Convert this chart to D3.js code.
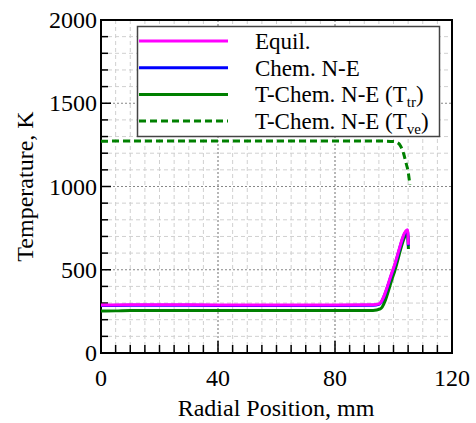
<!DOCTYPE html>
<html><head><meta charset="utf-8">
<script src="https://cdn.jsdelivr.net/npm/d3@7"></script>
<style>body{margin:0;background:#fff}svg{display:block}</style>
</head><body><svg id="c" width="476" height="423"></svg>
<script>
const equilX = [0, 10, 20, 40, 60, 80, 93, 95, 100, 104.8, 105.1];
const equilT = [288, 290, 290, 289, 289, 289, 290, 295, 510, 740, 650];
const chemX  = [0, 10, 20, 40, 60, 80, 93, 95, 100, 104.8, 105.1];
const chemT  = [285, 287, 287, 286, 286, 286, 287, 292, 505, 735, 645];
const trX    = [0, 5, 10, 20, 40, 60, 80, 93, 95.5, 100, 104.8, 105.1];
const trT    = [252, 253, 256, 256, 255, 255, 255, 256, 265, 470, 715, 625];
const veX    = [0, 20, 40, 60, 80, 95, 100, 101.5, 102.5, 103.5, 104.3, 105, 105.6];
const veT    = [1272, 1274, 1274, 1274, 1274, 1273, 1270, 1262, 1240, 1195, 1140, 1090, 1010];
const xTicks = [0, 40, 80, 120];
const yTicks = [0, 500, 1000, 1500, 2000];
const legendLabels = ["Equil.", "Chem. N-E", "T-Chem. N-E (T", "T-Chem. N-E (T"];
const legendSubs = ["", "", "tr", "ve"];

const FONT = '"Liberation Serif"';
const L = 101, R = 452, T = 20, B = 353;
const svg = d3.select("#c");
const x = d3.scaleLinear().domain([0, 120]).range([L, R]);
const y = d3.scaleLinear().domain([0, 2000]).range([B, T]);

// grid
const g = svg.append("g");
d3.range(5, 120, 5).forEach(v => {
  const major = v % 40 === 0;
  g.append("line").attr("x1", x(v)).attr("x2", x(v)).attr("y1", T).attr("y2", B)
    .attr("stroke", major ? "#888" : "#d0d0d0").attr("stroke-width", major ? 1.2 : 1)
    .attr("stroke-dasharray", major ? "2,2" : "4,3");
});
d3.range(100, 2000, 100).forEach(v => {
  const major = v % 500 === 0;
  g.append("line").attr("x1", L).attr("x2", R).attr("y1", y(v)).attr("y2", y(v))
    .attr("stroke", major ? "#888" : "#d0d0d0").attr("stroke-width", major ? 1.2 : 1)
    .attr("stroke-dasharray", major ? "2,2" : "4,3");
});

// ticks
d3.range(0, 121, 5).forEach(v => {
  const major = v % 40 === 0;
  svg.append("line").attr("x1", x(v)).attr("x2", x(v)).attr("y1", B).attr("y2", B - (major ? 12 : 8))
    .attr("stroke", "#000").attr("stroke-width", 1.5);
});
d3.range(0, 2001, 100).forEach(v => {
  const major = v % 500 === 0;
  svg.append("line").attr("x1", L).attr("x2", L + (major ? 10 : 7)).attr("y1", y(v)).attr("y2", y(v))
    .attr("stroke", "#000").attr("stroke-width", 1.5);
});

// frame
svg.append("rect").attr("x", L).attr("y", T).attr("width", R - L).attr("height", B - T)
  .attr("fill", "none").attr("stroke", "#000").attr("stroke-width", 2);

// tick labels
xTicks.forEach(v => svg.append("text").attr("x", x(v)).attr("y", 386).attr("text-anchor", "middle")
  .style("font-family", FONT).attr("font-size", 24).text(v));
yTicks.forEach(v => svg.append("text").attr("x", 97).attr("y", y(v) + 8).attr("text-anchor", "end")
  .style("font-family", FONT).attr("font-size", 24).text(v));

svg.append("text").attr("x", 276).attr("y", 416).attr("text-anchor", "middle").attr("font-size", 24)
  .style("font-family", FONT).text("Radial Position, mm");
svg.append("text").attr("transform", `translate(33,${(T + B) / 2}) rotate(-90)`).attr("text-anchor", "middle")
  .style("font-family", FONT).attr("font-size", 24).text("Temperature, K");

// lines
const line = d3.line().x(d => x(d[0])).y(d => y(d[1])).curve(d3.curveMonotoneX);
const series = [
  {xs: veX, ts: veT, color: "#008000", dash: "7,4"},
  {xs: trX, ts: trT, color: "#008000", dash: null},
  {xs: chemX, ts: chemT, color: "#0000ff", dash: null},
  {xs: equilX, ts: equilT, color: "#ff00ff", dash: null}
];
series.forEach(s => {
  svg.append("path").datum(d3.zip(s.xs, s.ts)).attr("d", line).attr("fill", "none")
    .attr("stroke", s.color).attr("stroke-width", 3).attr("stroke-dasharray", s.dash)
    .attr("stroke-linejoin", "round");
});

// legend
const lg = svg.append("g");
lg.append("rect").attr("x", 137.5).attr("y", 26.5).attr("width", 302).attr("height", 110)
  .attr("fill", "#fff").attr("stroke", "#444").attr("stroke-width", 1.5);
const legColors = ["#ff00ff", "#0000ff", "#008000", "#008000"];
const legDash = [null, null, null, "7,4"];
legendLabels.forEach((lab, i) => {
  const yy = 41 + i * 26.7;
  lg.append("line").attr("x1", 139).attr("x2", 228).attr("y1", yy).attr("y2", yy)
    .attr("stroke", legColors[i]).attr("stroke-width", 3).attr("stroke-dasharray", legDash[i]);
  const t = lg.append("text").attr("x", 255).attr("y", yy + 8).attr("font-size", 23)
    .style("font-family", FONT);
  t.append("tspan").text(lab);
  if (legendSubs[i]) {
    t.append("tspan").attr("font-size", 15).attr("dy", 5).text(legendSubs[i]);
    t.append("tspan").attr("dy", -5).text(")");
  }
});
</script></body></html>
